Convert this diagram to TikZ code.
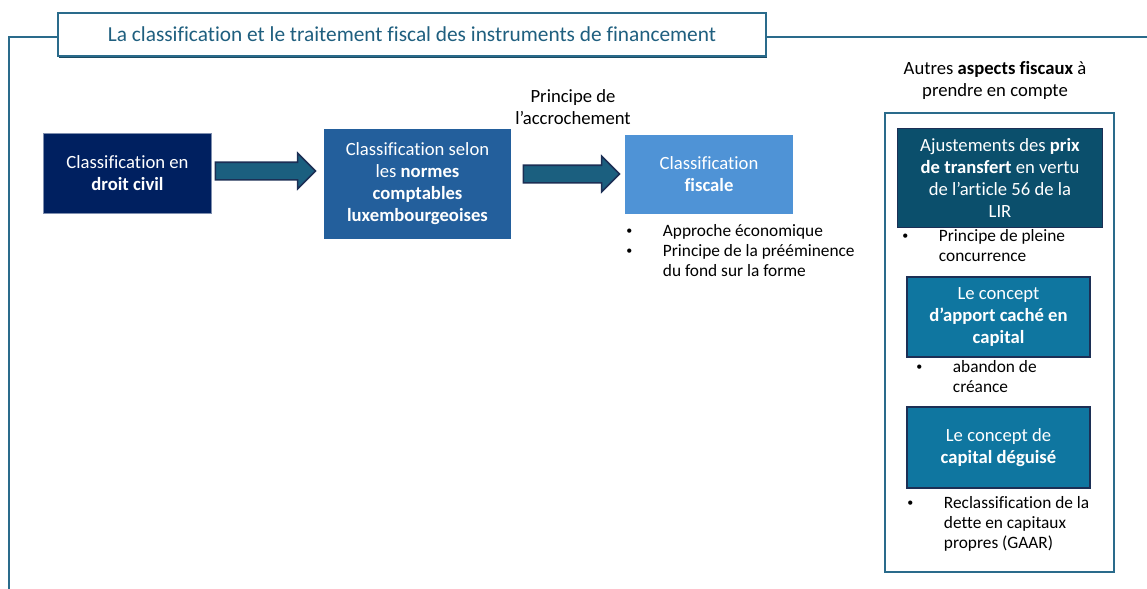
\documentclass[tikz,border=0pt]{standalone}
\usepackage{fontspec}
\setmainfont[Ligatures=NoCommon]{Carlito}
\usetikzlibrary{shapes.arrows, positioning, shadows, calc}

\definecolor{civilfond}{HTML}{002060}
\definecolor{civilbord}{HTML}{7F8FAF}
\definecolor{comptafond}{HTML}{235F9C}
\definecolor{fiscalfond}{HTML}{4F93D6}
\definecolor{prixfond}{HTML}{0B4F6C}
\definecolor{conceptfond}{HTML}{0F76A0}
\definecolor{bordnavy}{HTML}{1C2F55}
\definecolor{flechefond}{HTML}{1B5F7F}
\definecolor{cadre}{HTML}{2A6B8B}
\definecolor{cadreombre}{HTML}{1A4A62}
\definecolor{titretexte}{HTML}{1F5F7F}

\newcommand{\puce}{\raisebox{1.2pt}{\fontsize{9}{9}\selectfont\textbullet}}
\newcommand{\puces}[1]{\begin{tabular}[t]{@{}p{27.5pt}@{}l@{}}#1\end{tabular}}

\begin{document}
\begin{tikzpicture}[
    x=0.75pt, y=-0.75pt,
    base/.style={rectangle, align=center, text=white, inner sep=2pt, font=\fontsize{14}{16.5}\selectfont},
    texte/.style={align=center, inner sep=0pt, font=\fontsize{14}{16.5}\selectfont},
    titre/.style={rectangle, draw=cadre, line width=1.5pt, fill=white, minimum width=531pt, minimum height=32.25pt, text=titretexte, font=\fontsize{16}{19}\selectfont, drop shadow={shadow xshift=1pt, shadow yshift=-1.5pt, fill=cadreombre, opacity=1}},
    fleche/.style={single arrow, draw=bordnavy, fill=flechefond, line width=1.2pt, minimum width=25.5pt, single arrow head extend=6.75pt, single arrow tip angle=90, inner xsep=0pt, inner ysep=6pt},
    liste/.style={anchor=base west, inner sep=0pt, font=\fontsize{13}{15}\selectfont},
    ligne/.style={draw=cadre, line width=1pt}
]
\useasboundingbox (0,0) rectangle (1147,589);

% Titre
\node[titre] (titre) at (412,34.5) {La classification et le traitement fiscal des instruments de financement};
\draw[ligne] (titre.west |- 0,37) -| (9,589);
\draw[ligne] (titre.east |- 0,37) -- (1147,37);

% Chaine de classification
\node[base, fill=civilfond, draw=civilbord, line width=0.8pt, minimum width=126pt, minimum height=60pt] (civil) at (127.5,173.5) {Classification en\\\textbf{droit civil}};
\node[fleche, minimum height=75pt] (fleche1) at (261,171) {};
\node[base, fill=comptafond, minimum width=140.25pt, minimum height=82.5pt] (comptable) at (417.5,184) {Classification selon\\les \textbf{normes}\\\textbf{comptables}\\\textbf{luxembourgeoises}};
\node[fleche, minimum height=72pt] (fleche2) at (567,174) {};
\node[texte] (accroche) at (573,107) {Principe de\\l’accrochement};
\node[base, fill=fiscalfond, minimum width=126pt, minimum height=59.25pt] (fiscale) at (709,174.5) {Classification\\\textbf{fiscale}};
\node[liste] (listefiscale) at (626,236) {\puces{\puce & Approche économique\\ \puce & Principe de la prééminence\\ & du fond sur la forme}};

% Autres aspects fiscaux
\node[texte] (autres) at (995,80.5) {Autres \textbf{aspects fiscaux} à\\prendre en compte};
\node[draw=cadre, line width=1.5pt, minimum width=172pt, minimum height=344.5pt] (panneau) at (999.5,342.5) {};

\node[base, fill=prixfond, draw=bordnavy, line width=1.2pt, minimum width=153.5pt, minimum height=74pt] (prix) at (1000,178) {Ajustements des \textbf{prix}\\\textbf{de transfert} en vertu\\de l’article 56 de la\\LIR};
\node[liste] (listeprix) at (902,241) {\puces{\puce & Principe de pleine\\ & concurrence}};

\node[base, fill=conceptfond, draw=bordnavy, line width=1.5pt, minimum width=137.5pt, minimum height=59.5pt] (apport) at (998.5,317) {Le concept\\\textbf{d’apport caché en}\\\textbf{capital}};
\node[liste] (listeapport) at (916,372) {\puces{\puce & abandon de\\ & créance}};

\node[base, fill=conceptfond, draw=bordnavy, line width=1.5pt, minimum width=137.5pt, minimum height=60.25pt] (deguise) at (998.5,447.5) {Le concept de\\\textbf{capital déguisé}};
\node[liste] (listedeguise) at (907,508) {\puces{\puce & Reclassification de la\\ & dette en capitaux\\ & propres (GAAR)}};

\end{tikzpicture}
\end{document}
